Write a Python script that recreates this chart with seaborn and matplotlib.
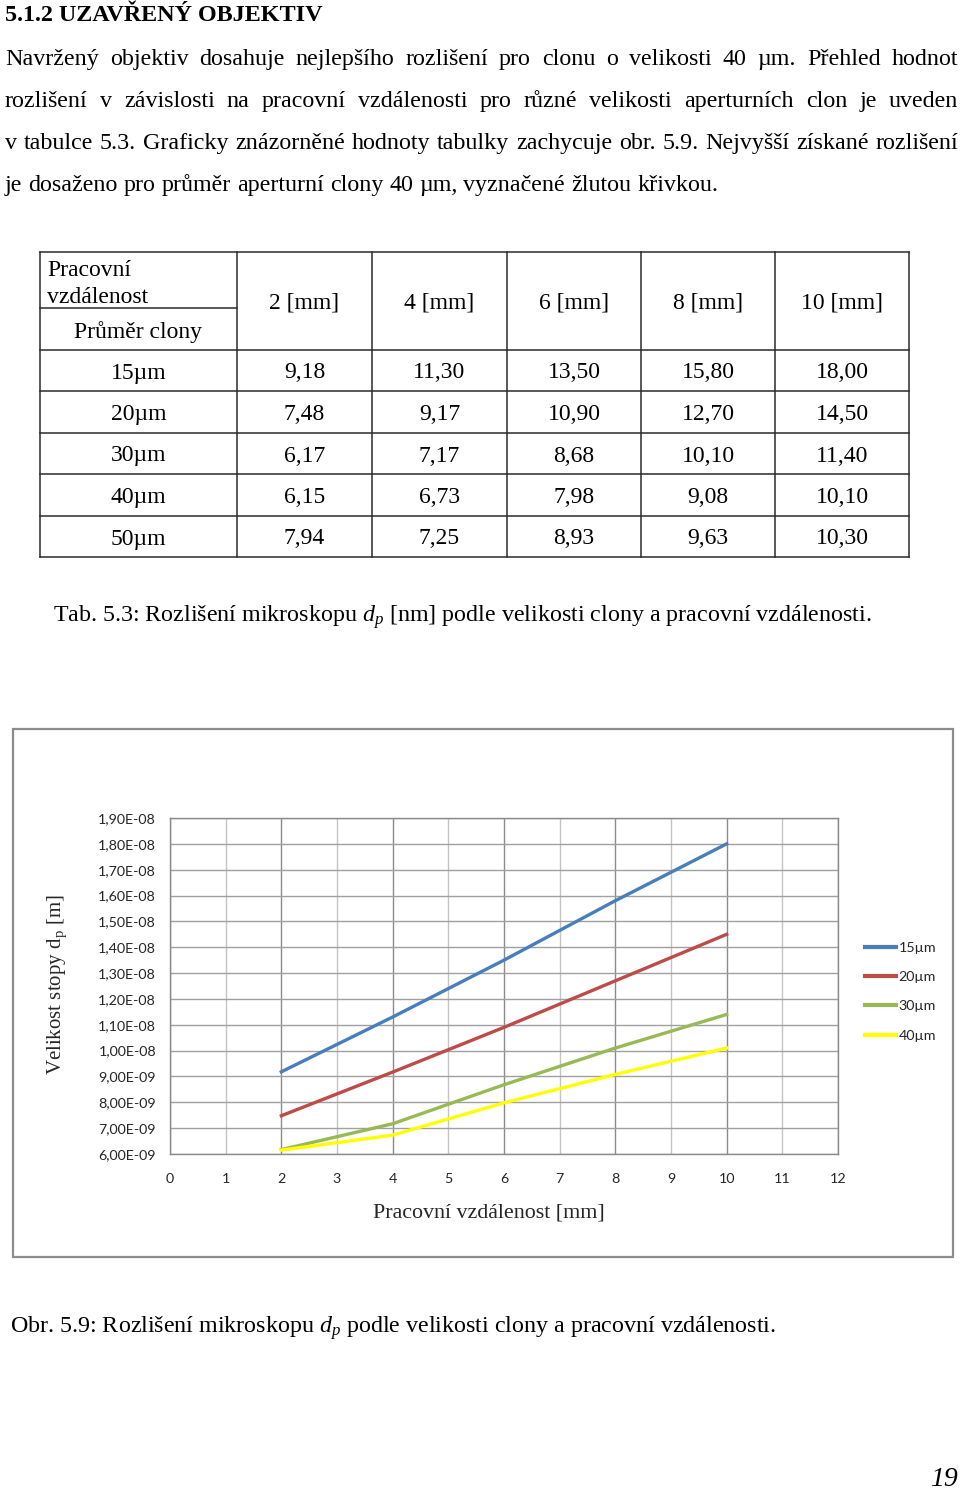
import numpy as np
import pandas as pd
import matplotlib
matplotlib.use("Agg")
import matplotlib.pyplot as plt
import seaborn as sns
from matplotlib.lines import Line2D
from matplotlib.patches import Rectangle

# ---------------- data ----------------
distances_mm = [2, 4, 6, 8, 10]
apertures = ["15µm", "20µm", "30µm", "40µm", "50µm"]
res_15 = [9.18, 11.30, 13.50, 15.80, 18.00]
res_20 = [7.48, 9.17, 10.90, 12.70, 14.50]
res_30 = [6.17, 7.17, 8.68, 10.10, 11.40]
res_40 = [6.15, 6.73, 7.98, 9.08, 10.10]
res_50 = [7.94, 7.25, 8.93, 9.63, 10.30]
table_rows = [res_15, res_20, res_30, res_40, res_50]
col_headers = ["2 [mm]", "4 [mm]", "6 [mm]", "8 [mm]", "10 [mm]"]
chart_series = ["15µm", "20µm", "30µm", "40µm"]
chart_values = [res_15, res_20, res_30, res_40]
line_colors = ["#4a7ebb", "#be4b48", "#98b954", "#ffff00"]
x_ticks = [0, 1, 2, 3, 4, 5, 6, 7, 8, 9, 10, 11, 12]
y_ticks_nm = [6, 7, 8, 9, 10, 11, 12, 13, 14, 15, 16, 17, 18, 19]

heading = "5.1.2 UZAVŘENÝ OBJEKTIV"
para_lines = [
    "Navržený objektiv dosahuje nejlepšího rozlišení pro clonu o velikosti 40 µm. Přehled hodnot",
    "rozlišení v závislosti na pracovní vzdálenosti pro různé velikosti aperturních clon je uveden",
    "v tabulce 5.3. Graficky znázorněné hodnoty tabulky zachycuje obr. 5.9. Nejvyšší získané rozlišení",
    "je dosaženo pro průměr aperturní clony 40 µm, vyznačené žlutou křivkou.",
]
tab_caption = "Tab. 5.3: Rozlišení mikroskopu $d_p$ [nm] podle velikosti clony a pracovní vzdálenosti."
fig_caption = "Obr. 5.9: Rozlišení mikroskopu $d_p$ podle velikosti clony a pracovní vzdálenosti."
x_label = "Pracovní vzdálenost [mm]"
y_label = "Velikost stopy d$_\\mathrm{p}$ [m]"

# ---------------- style ----------------
plt.rcParams["mathtext.fontset"] = "custom"
plt.rcParams["mathtext.rm"] = "Liberation Serif"
plt.rcParams["mathtext.it"] = "Liberation Serif:italic"
plt.rcParams["mathtext.bf"] = "Liberation Serif:bold"
SERIF = ["Liberation Serif", "DejaVu Serif"]
SANS = ["Lato", "DejaVu Sans"]

W, H = 960, 1492
fig = plt.figure(figsize=(W / 100, H / 100), dpi=100)
fig.patch.set_facecolor("white")

page = fig.add_axes([0, 0, 1, 1])
page.set_xlim(0, W)
page.set_ylim(H, 0)
page.axis("off")

BODY = 17.3

# heading
page.text(5, 21, heading, family=SERIF, fontsize=17.4, weight="bold",
          va="baseline", ha="left", color="black")

# justified paragraph
fig.canvas.draw()
renderer = fig.canvas.get_renderer()


def draw_line(text, x0, x1, y, justify):
    words = text.split(" ")
    arts = [page.text(0, y, w, family=SERIF, fontsize=BODY, va="baseline",
                      ha="left", color="black") for w in words]
    widths = [a.get_window_extent(renderer).width for a in arts]
    if justify and len(words) > 1:
        gap = (x1 - x0 - sum(widths)) / (len(words) - 1)
    else:
        t1 = page.text(0, 0, "a a", family=SERIF, fontsize=BODY)
        t2 = page.text(0, 0, "aa", family=SERIF, fontsize=BODY)
        gap = t1.get_window_extent(renderer).width - t2.get_window_extent(renderer).width
        t1.remove(); t2.remove()
    x = x0
    for a, w in zip(arts, widths):
        a.set_x(x)
        x += w + gap


baselines = [65, 107, 149, 191]
for i, (ln, yb) in enumerate(zip(para_lines, baselines)):
    draw_line(ln, 5, 958, yb, justify=(i < 3))

# ---------------- table ----------------
col_x = [40, 237, 372, 507, 641, 775, 909]
row_y = [252, 350, 391, 433, 474, 516, 557]
tcol = "#2b2b2b"
for cx in col_x:
    page.add_line(Line2D([cx, cx], [row_y[0], row_y[-1]], color=tcol, lw=1.1))
for ry in row_y:
    page.add_line(Line2D([col_x[0], col_x[-1]], [ry, ry], color=tcol, lw=1.1))
page.add_line(Line2D([col_x[0], col_x[1]], [308, 308], color=tcol, lw=1.1))

tkw = dict(family=SERIF, fontsize=17, va="baseline", color="black")
page.text(47, 276, "Pracovní", ha="left", **tkw)
page.text(47, 303, "vzdálenost", ha="left", **tkw)
page.text((col_x[0] + col_x[1]) / 2, 338, "Průměr clony", ha="center", **tkw)
for j, hname in enumerate(col_headers):
    page.text((col_x[j + 1] + col_x[j + 2]) / 2, 309, hname, ha="center", **tkw)
for i, (ap, vals) in enumerate(zip(apertures, table_rows)):
    yb = (row_y[i + 1] + row_y[i + 2]) / 2 + 8
    page.text((col_x[0] + col_x[1]) / 2, yb, ap, ha="center", **tkw)
    for j, v in enumerate(vals):
        page.text((col_x[j + 1] + col_x[j + 2]) / 2, yb,
                  f"{v:.2f}".replace(".", ","), ha="center", **tkw)

ckw = dict(family=SERIF, fontsize=17.3, va="baseline", color="black")
page.text(53, 622, tab_caption, ha="left", **ckw)

# ---------------- chart ----------------
page.add_patch(Rectangle((13, 729), 940, 528, fill=False, edgecolor="#8c8c8c", lw=1.6))

L, R, T, B = 170, 838, 818, 1154
ax = fig.add_axes([L / W, 1 - B / H, (R - L) / W, (B - T) / H])

rows = []
for name, vals in zip(chart_series, chart_values):
    for d, v in zip(distances_mm, vals):
        rows.append({"distance": d, "size": v * 1e-9, "aperture": name})
df = pd.DataFrame(rows)

sns.lineplot(data=df, x="distance", y="size", hue="aperture",
             hue_order=chart_series, palette=line_colors, linewidth=2.4,
             ax=ax, legend=True, zorder=3)

ax.set_xlim(0, 12)
ax.set_ylim(6e-9, 1.9e-8)
ax.set_xticks(x_ticks)
ax.set_xticks([], minor=True)
ax.set_yticks([v * 1e-9 for v in y_ticks_nm])
ax.set_xticklabels([str(t) for t in x_ticks])
ax.set_yticklabels([f"{v * 1e-9:.2E}".replace(".", ",") for v in y_ticks_nm])
for lab in ax.get_xticklabels() + ax.get_yticklabels():
    lab.set_family(SANS)
    lab.set_fontsize(10.3)
    lab.set_color("#262626")
ax.tick_params(axis="both", length=0)
ax.tick_params(axis="x", pad=14)
ax.tick_params(axis="y", pad=10)

ax.grid(False)
for xt in x_ticks:
    ax.axvline(xt, color="#8a8a8a" if xt % 2 == 0 else "#c4c4c4", lw=1.0, zorder=1)
for yt in y_ticks_nm:
    ax.axhline(yt * 1e-9, color="#a0a0a0", lw=1.0, zorder=1)
for s in ax.spines.values():
    s.set_color("#8a8a8a")
    s.set_linewidth(1.0)

ax.set_xlabel("")
ax.set_ylabel("")
page.text(489, 1213, x_label, family=SERIF, fontsize=15.8,
          ha="center", va="center", color="#262626")
page.text(57, 985, y_label, family=SERIF, fontsize=15, rotation=90,
          ha="center", va="center", color="#262626")

leg = ax.legend(loc="upper left", bbox_to_anchor=(865 / W, 1 - 942 / H),
                bbox_transform=fig.transFigure, frameon=False,
                handlelength=2.15, handletextpad=0.2, labelspacing=1.2,
                borderaxespad=0, borderpad=0, prop={"family": SANS, "size": 10.3})
for t in leg.get_texts():
    t.set_color("#262626")
for h in leg.get_lines():
    h.set_linewidth(3)

# figure caption & page number
page.text(10, 1333, fig_caption, ha="left", **ckw)
page.text(958, 1486, "19", family=SERIF, fontsize=20, style="italic",
          ha="right", va="baseline", color="black")

fig.savefig("out.png", dpi=100, facecolor="white")
